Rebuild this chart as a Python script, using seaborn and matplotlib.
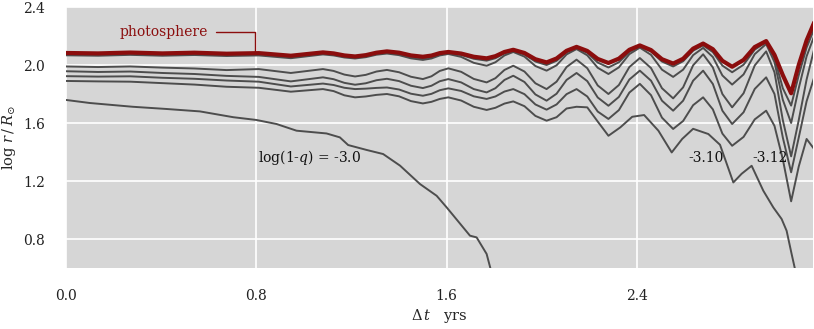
import numpy as np
import pandas as pd
import seaborn as sns
import matplotlib
matplotlib.use('Agg')
import matplotlib.pyplot as plt

# time axis (yrs) shared by the photosphere and the upper shells
t_grid = [0.0, 0.135, 0.27, 0.405, 0.54, 0.675, 0.81, 0.945, 1.08,
          1.125, 1.17, 1.215, 1.26, 1.305, 1.349, 1.40, 1.45, 1.50, 1.536, 1.571, 1.607,
          1.661, 1.714, 1.768, 1.805, 1.843, 1.88, 1.927, 1.973, 2.02, 2.062, 2.104, 2.146,
          2.191, 2.235, 2.28, 2.324, 2.368, 2.412, 2.459, 2.505, 2.552, 2.594, 2.636, 2.678,
          2.719, 2.759, 2.80, 2.848, 2.895, 2.943, 2.978, 3.013, 3.048, 3.08, 3.113, 3.145]

photosphere = [2.083, 2.080, 2.086, 2.080, 2.085, 2.078, 2.082, 2.064, 2.087,
               2.080, 2.066, 2.059, 2.068, 2.085, 2.094, 2.085, 2.066, 2.057, 2.065, 2.082, 2.090,
               2.079, 2.057, 2.046, 2.061, 2.090, 2.105, 2.083, 2.040, 2.018, 2.045, 2.098, 2.125,
               2.097, 2.042, 2.014, 2.044, 2.105, 2.135, 2.103, 2.040, 2.010, 2.043, 2.113, 2.148,
               2.109, 2.029, 1.988, 2.035, 2.124, 2.165, 2.070, 1.930, 1.805, 2.000, 2.170, 2.294]

shell_b = [2.075, 2.072, 2.078, 2.072, 2.077, 2.070, 2.074, 2.055, 2.079,
           2.072, 2.059, 2.052, 2.061, 2.078, 2.086, 2.076, 2.055, 2.045, 2.054, 2.073, 2.082,
           2.069, 2.043, 2.030, 2.047, 2.080, 2.097, 2.073, 2.024, 2.000, 2.029, 2.088, 2.117,
           2.084, 2.017, 1.983, 2.019, 2.091, 2.127, 2.093, 2.024, 1.990, 2.026, 2.099, 2.135,
           2.089, 1.996, 1.950, 2.002, 2.106, 2.158, 2.050, 1.840, 1.720, 1.930, 2.120, 2.250]

shell_c = [2.067, 2.064, 2.070, 2.064, 2.069, 2.062, 2.066, 2.047, 2.073,
           2.066, 2.052, 2.045, 2.054, 2.071, 2.079, 2.068, 2.046, 2.035, 2.045, 2.066, 2.076,
           2.056, 2.015, 1.995, 2.019, 2.066, 2.090, 2.058, 1.993, 1.961, 1.998, 2.073, 2.110,
           2.067, 1.981, 1.938, 1.984, 2.075, 2.120, 2.070, 1.968, 1.918, 1.968, 2.068, 2.118,
           2.055, 1.928, 1.865, 1.935, 2.075, 2.145, 2.020, 1.760, 1.600, 1.840, 2.060, 2.200]

shell_d = [1.990, 1.986, 1.990, 1.982, 1.976, 1.965, 1.972, 1.945, 1.972,
           1.959, 1.934, 1.921, 1.932, 1.955, 1.966, 1.950, 1.919, 1.903, 1.922, 1.959, 1.977,
           1.953, 1.904, 1.880, 1.909, 1.966, 1.995, 1.955, 1.874, 1.834, 1.885, 1.986, 2.037,
           1.978, 1.859, 1.800, 1.862, 1.986, 2.048, 1.979, 1.840, 1.770, 1.846, 1.998, 2.074,
           1.983, 1.800, 1.708, 1.805, 1.997, 2.094, 1.950, 1.620, 1.370, 1.620, 1.900, 2.110]

shell_e = [1.957, 1.952, 1.955, 1.945, 1.938, 1.925, 1.918, 1.887, 1.915,
           1.902, 1.877, 1.864, 1.874, 1.895, 1.905, 1.889, 1.857, 1.841, 1.857, 1.888, 1.903,
           1.880, 1.834, 1.811, 1.840, 1.897, 1.926, 1.883, 1.797, 1.754, 1.802, 1.897, 1.945,
           1.889, 1.776, 1.719, 1.780, 1.900, 1.961, 1.892, 1.754, 1.685, 1.754, 1.892, 1.961,
           1.869, 1.685, 1.593, 1.674, 1.835, 1.915, 1.800, 1.500, 1.260, 1.500, 1.750, 1.915]

# log(1-q) = -3.12
shell_f = [1.923, 1.920, 1.922, 1.912, 1.905, 1.893, 1.885, 1.852, 1.872,
           1.862, 1.843, 1.834, 1.837, 1.842, 1.845, 1.831, 1.802, 1.788, 1.801, 1.826, 1.839,
           1.821, 1.784, 1.766, 1.783, 1.817, 1.834, 1.799, 1.728, 1.692, 1.728, 1.799, 1.834,
           1.783, 1.679, 1.628, 1.689, 1.810, 1.870, 1.792, 1.637, 1.559, 1.614, 1.723, 1.777,
           1.694, 1.527, 1.443, 1.504, 1.625, 1.685, 1.580, 1.350, 1.060, 1.300, 1.490, 1.420]

# log(1-q) = -3.10
t_g = [0.0, 0.135, 0.27, 0.405, 0.54, 0.675, 0.81, 0.945, 1.08, 1.125, 1.17, 1.215, 1.26,
       1.305, 1.349, 1.40, 1.45, 1.50, 1.536, 1.571, 1.607, 1.661, 1.714, 1.768, 1.805, 1.843,
       1.88, 1.927, 1.973, 2.02, 2.062, 2.104, 2.146, 2.191, 2.235, 2.28, 2.33, 2.38, 2.43,
       2.49, 2.546, 2.59, 2.636, 2.70, 2.749, 2.805, 2.84, 2.882, 2.931, 2.973, 3.008, 3.029,
       3.05, 3.07]
shell_g = [1.890, 1.887, 1.885, 1.875, 1.865, 1.850, 1.843, 1.816, 1.834, 1.820, 1.791, 1.777,
           1.783, 1.794, 1.800, 1.784, 1.751, 1.735, 1.746, 1.766, 1.777, 1.755, 1.712, 1.690,
           1.705, 1.734, 1.749, 1.716, 1.649, 1.616, 1.640, 1.700, 1.712, 1.708, 1.610, 1.512,
           1.570, 1.643, 1.655, 1.547, 1.397, 1.490, 1.560, 1.524, 1.450, 1.190, 1.250, 1.305,
           1.133, 1.018, 0.938, 0.857, 0.697, 0.550]

# log(1-q) = -3.0
t_h = [0.0, 0.10, 0.28, 0.42, 0.563, 0.703, 0.80, 0.885, 0.969, 1.095, 1.151, 1.186, 1.264,
       1.333, 1.404, 1.488, 1.558, 1.60, 1.698, 1.726, 1.768, 1.79]
shell_h = [1.759, 1.738, 1.712, 1.697, 1.680, 1.640, 1.621, 1.593, 1.547, 1.528, 1.501, 1.448,
           1.414, 1.386, 1.306, 1.179, 1.098, 1.018, 0.823, 0.811, 0.697, 0.560]

xticks = [0.0, 0.8, 1.6, 2.4]
yticks = [0.8, 1.2, 1.6, 2.0, 2.4]

grey = '#4d4d4d'
red = '#8b0d0d'

sns.set_style('darkgrid', {'axes.facecolor': '#d6d6d6', 'grid.color': 'white',
                           'axes.edgecolor': '#d6d6d6'})
plt.rcParams['font.family'] = ['DejaVu Serif']
plt.rcParams['mathtext.fontset'] = 'dejavuserif'

fig = plt.figure(figsize=(8.14, 3.29), dpi=100)
ax = fig.add_axes([0.0811, 0.1854, 0.9177, 0.7933])

shells = [(t_h, shell_h), (t_g, shell_g), (t_grid, shell_f), (t_grid, shell_e),
          (t_grid, shell_d), (t_grid, shell_c), (t_grid, shell_b)]
for tt, yy in shells:
    sns.lineplot(x=tt, y=yy, color=grey, lw=1.4, sort=False, estimator=None, ax=ax)
sns.lineplot(x=t_grid, y=photosphere, color=red, lw=3, sort=False, estimator=None, ax=ax)

ax.set_xlim(0, 3.14)
ax.set_ylim(0.6, 2.4)
ax.set_xticks(xticks)
ax.set_yticks(yticks)
ax.set_xticklabels([f'{v:.1f}' for v in xticks])
ax.set_yticklabels([f'{v:.1f}' for v in yticks])
ax.grid(color='white', lw=1.2)
for s in ax.spines.values():
    s.set_visible(False)
ax.tick_params(length=0, labelsize=10, colors='#222222')
ax.tick_params(axis='x', pad=15)
ax.tick_params(axis='y', pad=15)
ax.set_xlabel(r'$\Delta\,t$   yrs', fontsize=10.5, labelpad=3)
ax.set_ylabel(r'log $r\,/\,R_{\odot}$', fontsize=10.5, labelpad=4)

ax.annotate('photosphere', xy=(0.795, 2.098), xytext=(0.598, 2.226),
            ha='right', va='center', color=red, fontsize=10,
            arrowprops=dict(arrowstyle='-', color=red, lw=1.0, shrinkA=3, shrinkB=0,
                            connectionstyle='angle,angleA=0,angleB=90,rad=0'))
ax.text(0.807, 1.36, r'log(1-$q$) = -3.0', fontsize=10, va='center', color='#111111')
ax.text(2.614, 1.36, '-3.10', fontsize=10, va='center', color='#111111')
ax.text(2.884, 1.36, '-3.12', fontsize=10, va='center', color='#111111')

fig.savefig('out.png', dpi=100)
